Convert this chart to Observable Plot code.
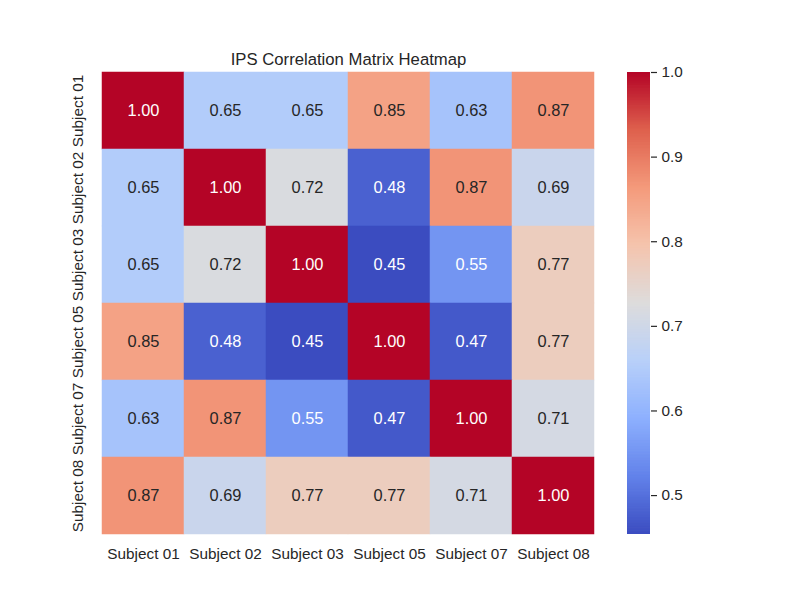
<!DOCTYPE html>
<html>
<head>
<meta charset="utf-8">
<script src="https://cdn.jsdelivr.net/npm/d3@7"></script>
<script src="https://cdn.jsdelivr.net/npm/@observablehq/plot@0.6"></script>
<style>
  body { margin: 0; background: #fff; }
  #wrap { position: relative; width: 800px; height: 600px; font-family: "Liberation Sans", Arial, sans-serif; }
  #wrap > svg { position: absolute; left: 0; top: 0; }
</style>
</head>
<body>
<div id="wrap"></div>
<script>
const subjects = ["Subject 01", "Subject 02", "Subject 03", "Subject 05", "Subject 07", "Subject 08"];
const row01 = [1.00, 0.65, 0.65, 0.85, 0.63, 0.87];
const row02 = [0.65, 1.00, 0.72, 0.48, 0.87, 0.69];
const row03 = [0.65, 0.72, 1.00, 0.45, 0.55, 0.77];
const row05 = [0.85, 0.48, 0.45, 1.00, 0.47, 0.77];
const row07 = [0.63, 0.87, 0.55, 0.47, 1.00, 0.71];
const row08 = [0.87, 0.69, 0.77, 0.77, 0.71, 1.00];
const rows = [row01, row02, row03, row05, row07, row08];
const title = "IPS Correlation Matrix Heatmap";
const colorbarTicks = [0.5, 0.6, 0.7, 0.8, 0.9, 1.0];
const vmin = 0.454, vmax = 1.0;
const coolwarm = ["#3b4cc0", "#6282ea", "#8db0fe", "#b8d0f9", "#dddcdc", "#f5c4ad", "#f49a7b", "#de604d", "#b40426"];

const stops = coolwarm.map((_, i) => vmin + (vmax - vmin) * i / (coolwarm.length - 1));
const colorOpts = {type: "linear", domain: stops, range: coolwarm, interpolate: "rgb", clamp: true};
const colorFn = d3.scaleLinear().domain(stops).range(coolwarm).interpolate(d3.interpolateRgb).clamp(true);
function lum(c) {
  const r = d3.rgb(c);
  const f = v => { v /= 255; return v <= 0.03928 ? v / 12.92 : Math.pow((v + 0.055) / 1.055, 2.4); };
  return 0.2126 * f(r.r) + 0.7152 * f(r.g) + 0.0722 * f(r.b);
}

const cells = [];
rows.forEach((r, i) => r.forEach((v, j) => cells.push({row: subjects[i], col: subjects[j], v})));

const ink = "#262626";
const main = Plot.plot({
  width: 800, height: 600,
  marginLeft: 100, marginRight: 204, marginTop: 72, marginBottom: 66,
  style: {fontFamily: "'Liberation Sans', Arial, sans-serif", fontSize: "15px", color: ink, background: "transparent"},
  x: {domain: subjects, padding: 0, label: null},
  y: {domain: subjects, padding: 0, label: null, axis: null},
  color: colorOpts,
  marks: [
    Plot.cell(cells, {x: "col", y: "row", fill: "v", inset: 0, stroke: "v", strokeWidth: 0.5}),
    Plot.text(cells, {x: "col", y: "row", text: d => d.v.toFixed(2), fontSize: 16.4,
      fill: d => lum(colorFn(d.v)) < 0.408 ? "white" : ink}),
    Plot.axisX({tickSize: 0, tickPadding: 14, fontSize: 15.3, fill: ink, label: null}),
    Plot.text(subjects, {y: d => d, text: d => d, frameAnchor: "left", rotate: -90, dx: -18,
      lineAnchor: "bottom", textAnchor: "middle", fontSize: 15.3, fill: ink}),
    Plot.text([title], {text: d => d, frameAnchor: "top", dy: -8, lineAnchor: "bottom", fontSize: 16.7, fill: ink})
  ]
});

const step = (vmax - vmin) / 300;
const stripes = d3.range(300).map(i => vmin + i * step);
const bar = Plot.plot({
  width: 800, height: 600,
  marginLeft: 627, marginRight: 150, marginTop: 72, marginBottom: 66,
  style: {fontFamily: "'Liberation Sans', Arial, sans-serif", fontSize: "15px", color: ink, background: "transparent"},
  x: {domain: [0, 1], axis: null},
  y: {domain: [vmin, vmax], axis: null},
  color: colorOpts,
  marks: [
    Plot.rect(stripes, {x1: 0, x2: 1, y1: d => d, y2: d => Math.min(vmax, d + step * 1.5), fill: d => d + step / 2}),
    Plot.axisY({anchor: "right", ticks: colorbarTicks, tickFormat: d3.format(".1f"), tickSize: 6, tickPadding: 5,
      fontSize: 15.3, fill: ink, stroke: ink, strokeWidth: 1.2, label: null})
  ]
});

document.getElementById("wrap").append(main, bar);
</script>
</body>
</html>
